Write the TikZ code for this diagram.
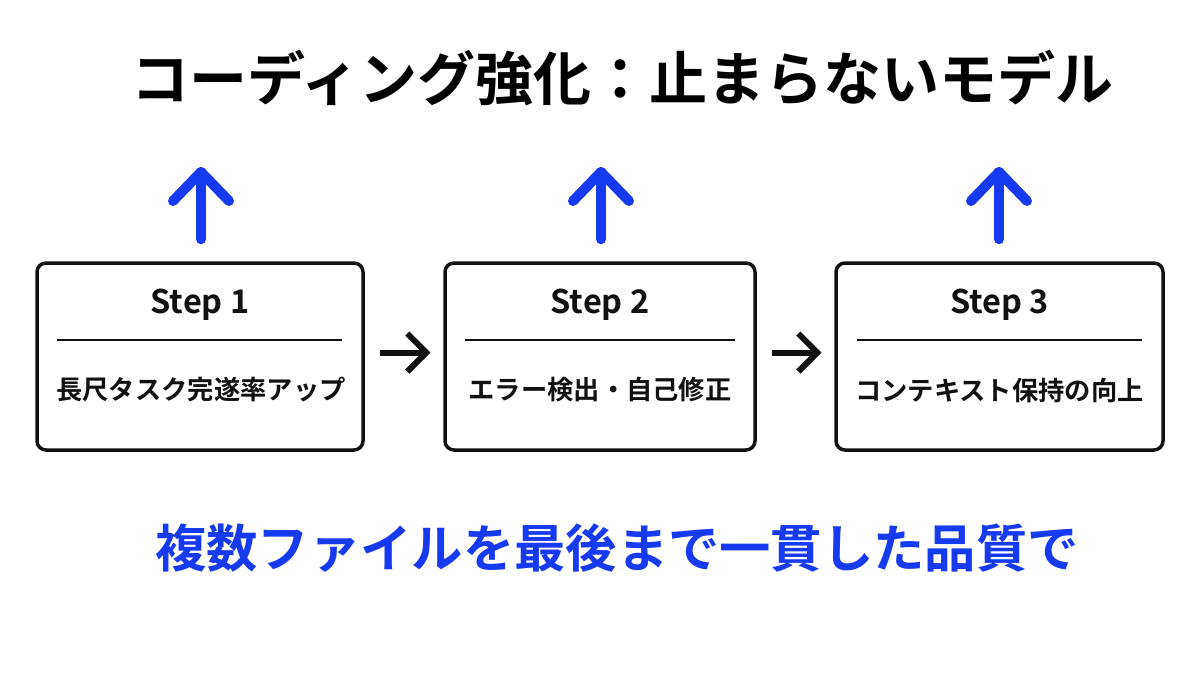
\documentclass[tikz,border=0pt]{standalone}
\usepackage{fontspec}
\usetikzlibrary{calc}
\setmainfont{Noto Sans CJK JP}[BoldFont={Noto Sans CJK JP Bold}]
\definecolor{accent}{RGB}{22,58,240}
\definecolor{ink}{RGB}{17,17,17}
\tikzset{
  stepbox/.style={draw=ink,line width=3.5pt,rounded corners=9pt,minimum width=#1,minimum height=187pt,inner sep=0pt},
  steptitle/.style={font=\bfseries\fontsize{32.5}{36}\selectfont,text=ink},
  stepdesc/.style={font=\bfseries\fontsize{26.3}{30}\selectfont,text=ink},
  divider/.style={draw=ink,line width=1.8pt},
  uparrow/.style={draw=accent,line width=10pt,line cap=round,line join=round},
  rarrow/.style={draw=ink,line width=6pt,line join=miter},
}
\begin{document}
\begin{tikzpicture}[x=1pt,y=-1pt]
\fill[white] (0,0) rectangle (1200,675);
\useasboundingbox (0,0) rectangle (1200,675);
% title
\node (title) at (622,78) {\bfseries\fontsize{58}{62}\selectfont コーディング強化：止まらないモデル};
% boxes
\node[stepbox=326pt] (b1) at (200,356.5) {};
\node[stepbox=310pt] (b2) at (600,356.5) {};
\node[stepbox=327pt] (b3) at (999.5,356.5) {};
\node[steptitle] (t1) at (200,305) {Step 1};
\node[steptitle] (t2) at (600,305) {Step 2};
\node[steptitle] (t3) at (999.5,305) {Step 3};
\draw[divider] (57,340) -- (342,340);
\draw[divider] (465,340) -- (735,340);
\draw[divider] (857,340) -- (1142,340);
\node[stepdesc] (d1) at (201,390) {長尺タスク完遂率アップ};
\node[stepdesc] (d2) at (600,390) {エラー検出・自己修正};
\node[stepdesc] (d3) at (999.5,390) {コンテキスト保持の向上};
% up arrows
\coordinate (u1) at (201,172);
\coordinate (u2) at (601,172);
\coordinate (u3) at (999,172);
\foreach \u/\b in {u1/b1,u2/b2,u3/b3}{
  \draw[uparrow] (\u |- \b.north) ++(0,-22) -- (\u);
  \draw[uparrow] ($(\u)+(-28,29)$) -- (\u) -- ($(\u)+(28,29)$);
}
% right arrows
\draw[rarrow] ($(b1.east)+(15,-4)$) -- ($(b2.west)+(-17,-4)$);
\draw[rarrow] ($(b2.west)+(-36,-23)$) -- ($(b2.west)+(-17,-4)$) -- ($(b2.west)+(-36,15)$);
\draw[rarrow] ($(b2.east)+(15,-4)$) -- ($(b3.west)+(-17,-4)$);
\draw[rarrow] ($(b3.west)+(-36,-23)$) -- ($(b3.west)+(-17,-4)$) -- ($(b3.west)+(-36,15)$);
% bottom
\node[text=accent] (sub) at (617,548) {\bfseries\fontsize{51.3}{56}\selectfont 複数ファイルを最後まで一貫した品質で};
\end{tikzpicture}
\end{document}
